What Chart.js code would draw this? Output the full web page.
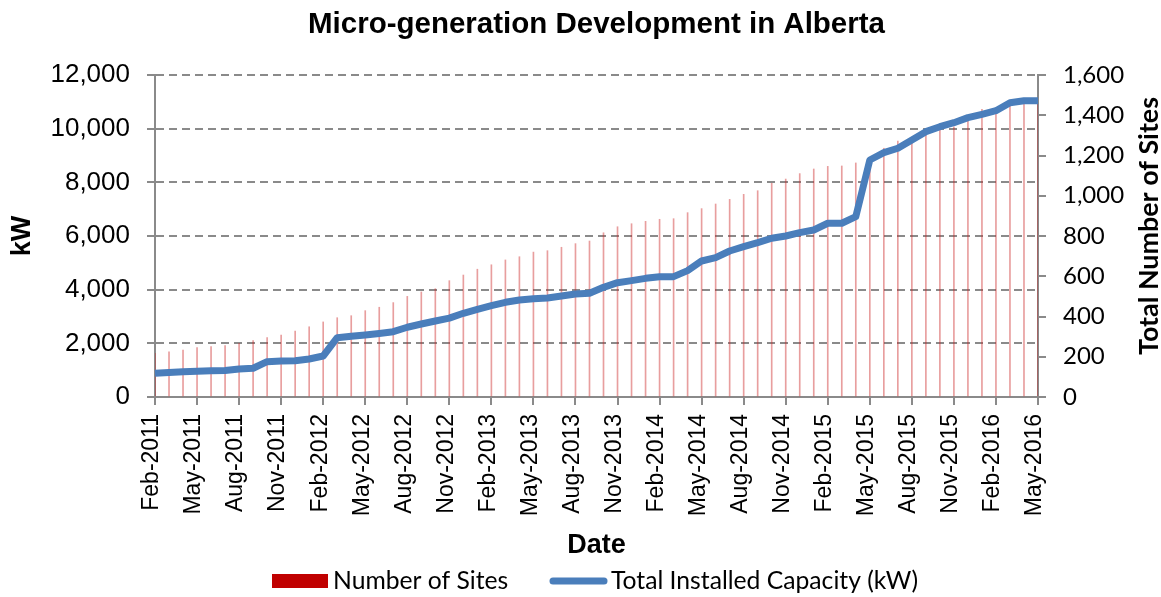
<!DOCTYPE html>
<html>
<head>
<meta charset="utf-8">
<script src="https://cdn.jsdelivr.net/npm/chart.js@4.4.1/dist/chart.umd.min.js"></script>
<style>
  html, body { margin: 0; padding: 0; background: #ffffff; }
  #wrap { width: 1161px; height: 597px; }
</style>
</head>
<body>
<div id="wrap"><canvas id="c" width="1161" height="597"></canvas></div>
<script>
// ---------- DATA ----------
const categories = [
  "Feb-2011","Mar-2011","Apr-2011","May-2011","Jun-2011","Jul-2011","Aug-2011","Sep-2011","Oct-2011","Nov-2011","Dec-2011",
  "Jan-2012","Feb-2012","Mar-2012","Apr-2012","May-2012","Jun-2012","Jul-2012","Aug-2012","Sep-2012","Oct-2012","Nov-2012","Dec-2012",
  "Jan-2013","Feb-2013","Mar-2013","Apr-2013","May-2013","Jun-2013","Jul-2013","Aug-2013","Sep-2013","Oct-2013","Nov-2013","Dec-2013",
  "Jan-2014","Feb-2014","Mar-2014","Apr-2014","May-2014","Jun-2014","Jul-2014","Aug-2014","Sep-2014","Oct-2014","Nov-2014","Dec-2014",
  "Jan-2015","Feb-2015","Mar-2015","Apr-2015","May-2015","Jun-2015","Jul-2015","Aug-2015","Sep-2015","Oct-2015","Nov-2015","Dec-2015",
  "Jan-2016","Feb-2016","Mar-2016","Apr-2016","May-2016"
];
const numberOfSites = [
  217,225,233,245,250,255,267,280,295,308,328,
  349,373,394,404,429,446,469,500,522,538,578,606,
  635,657,681,697,720,727,744,762,775,816,846,861,
  873,883,886,916,936,959,982,1007,1025,1062,1083,1110,
  1133,1146,1148,1163,1190,1236,1272,1280,1302,1327,1343,1380,
  1430,1435,1459,1462,1470
];
const totalCapacityKW = [
  883,910,943,960,975,985,1044,1070,1316,1340,1353,
  1416,1528,2210,2260,2311,2370,2434,2600,2720,2832,2940,3119,
  3269,3403,3529,3615,3665,3690,3764,3839,3864,4088,4261,4336,
  4422,4485,4485,4709,5069,5193,5441,5602,5751,5915,6000,6124,
  6224,6474,6474,6720,8833,9105,9269,9578,9888,10074,10223,10410,
  10536,10670,10969,11043,11043
];
const kwAxisTicks = [0, 2000, 4000, 6000, 8000, 10000, 12000];
const sitesAxisTicks = [0, 200, 400, 600, 800, 1000, 1200, 1400, 1600];
const labelEvery = 3;

const chartTitle = "Micro-generation Development in Alberta";
const leftAxisTitle = "kW";
const rightAxisTitle = "Total Number of Sites";
const xAxisTitle = "Date";
const seriesSitesName = "Number of Sites";
const seriesCapName = "Total Installed Capacity (kW)";

// ---------- STYLE ----------
const ARIAL = "'Liberation Sans', Arial, sans-serif";
const CALIBRI = "Lato, 'Open Sans', sans-serif";
const GRID = "#8a8a8a";
const BLUE = "#4a7ebb";
const RED = "#c00000";

Chart.defaults.color = "#000000";

const fmt = v => Number(v).toLocaleString("en-US");

function fitFont(ctx, text, weight, family, targetWidth) {
  ctx.font = weight + " 40px " + family;
  const w = ctx.measureText(text).width;
  return 40 * targetWidth / w;
}

const extras = {
  id: "extras",
  afterDraw(chart) {
    const ctx = chart.ctx;
    const area = chart.chartArea;
    const H = chart.height;
    ctx.save();
    // right axis title, reading bottom-to-top
    const rs = fitFont(ctx, rightAxisTitle, "bold", CALIBRI, 258);
    ctx.font = "bold " + rs.toFixed(2) + "px " + CALIBRI;
    ctx.fillStyle = "#000";
    ctx.textAlign = "center";
    ctx.textBaseline = "middle";
    ctx.translate(1149, (area.top + area.bottom) / 2 - 10);
    ctx.rotate(-Math.PI / 2);
    ctx.fillText(rightAxisTitle, 0, 0);
    ctx.restore();

    // legend
    ctx.save();
    const ls = fitFont(ctx, seriesCapName, "normal", CALIBRI, 307);
    ctx.font = ls.toFixed(2) + "px " + CALIBRI;
    ctx.textBaseline = "middle";
    ctx.textAlign = "left";
    const ly = H - 16;
    ctx.fillStyle = RED;
    ctx.fillRect(272, ly - 7, 56, 14);
    ctx.fillStyle = "#000";
    ctx.fillText(seriesSitesName, 333, ly);
    ctx.strokeStyle = BLUE;
    ctx.lineWidth = 7;
    ctx.lineCap = "round";
    ctx.beginPath();
    ctx.moveTo(553, ly);
    ctx.lineTo(604, ly);
    ctx.stroke();
    ctx.fillText(seriesCapName, 611, ly);
    ctx.restore();
  }
};

new Chart(document.getElementById("c"), {
  type: "bar",
  data: {
    labels: categories,
    datasets: [
      {
        type: "line",
        label: seriesCapName,
        data: totalCapacityKW,
        yAxisID: "y",
        borderColor: BLUE,
        backgroundColor: BLUE,
        borderWidth: 7,
        pointRadius: 0,
        pointHoverRadius: 0,
        tension: 0,
        borderJoinStyle: "round",
        fill: false,
        order: 0
      },
      {
        type: "bar",
        label: seriesSitesName,
        data: numberOfSites,
        yAxisID: "y2",
        backgroundColor: "rgba(205, 40, 40, 0.45)",
        borderWidth: 0,
        barThickness: 1,
        order: 1
      }
    ]
  },
  options: {
    responsive: false,
    animation: false,
    devicePixelRatio: 1,
    layout: { padding: { left: 0, right: 0, top: 0, bottom: 32 } },
    plugins: {
      legend: { display: false },
      tooltip: { enabled: false },
      title: {
        display: true,
        fullSize: false,
        text: chartTitle,
        color: "#000",
        font: { family: ARIAL, size: 29.5, weight: "bold", lineHeight: 1.2 },
        padding: { top: 7.3, bottom: 32.3 }
      }
    },
    scales: {
      x: {
        type: "category",
        offset: false,
        grid: {
          display: true,
          offset: false,
          drawOnChartArea: false,
          drawTicks: true,
          tickLength: 8,
          color: GRID,
          lineWidth: 2
        },
        border: { display: true, color: GRID, width: 2 },
        ticks: {
          autoSkip: false,
          maxRotation: 90,
          minRotation: 90,
          padding: 9,
          labelOffset: -3,
          color: "#000",
          font: { family: ARIAL, size: 23 },
          callback: function (value, index) {
            return index % labelEvery === 0 ? this.getLabelForValue(value) : null;
          }
        },
        title: {
          display: true,
          text: xAxisTitle,
          color: "#000",
          font: { family: ARIAL, size: 27, weight: "bold", lineHeight: 1.2 },
          padding: { top: 0, bottom: 3 }
        },
        afterFit(scale) { scale.height = 168; }
      },
      y: {
        position: "left",
        min: kwAxisTicks[0],
        max: kwAxisTicks[kwAxisTicks.length - 1],
        afterBuildTicks(scale) { scale.ticks = kwAxisTicks.map(v => ({ value: v })); },
        grid: {
          display: true,
          drawOnChartArea: true,
          drawTicks: true,
          tickLength: 8,
          color: GRID,
          lineWidth: 2,
          tickColor: GRID,
          tickWidth: 2
        },
        border: { display: true, color: GRID, width: 2, dash: [8, 5] },
        ticks: {
          padding: 17,
          color: "#000",
          font: { family: ARIAL, size: 26 },
          callback: v => fmt(v)
        },
        title: {
          display: true,
          text: leftAxisTitle,
          color: "#000",
          font: { family: ARIAL, size: 27, weight: "bold", lineHeight: 1.2 },
          padding: { top: 6, bottom: 0 }
        },
        afterFit(scale) { scale.width = 155; }
      },
      y2: {
        position: "right",
        min: sitesAxisTicks[0],
        max: sitesAxisTicks[sitesAxisTicks.length - 1],
        afterBuildTicks(scale) { scale.ticks = sitesAxisTicks.map(v => ({ value: v })); },
        grid: {
          display: true,
          drawOnChartArea: false,
          drawTicks: true,
          tickLength: 8,
          color: GRID,
          lineWidth: 2
        },
        border: { display: true, color: GRID, width: 2 },
        ticks: {
          padding: 17,
          color: "#000",
          font: { family: CALIBRI, size: 24 },
          callback: v => fmt(v)
        },
        afterFit(scale) { scale.width = 123; }
      }
    }
  },
  plugins: [extras]
});
</script>
</body>
</html>
